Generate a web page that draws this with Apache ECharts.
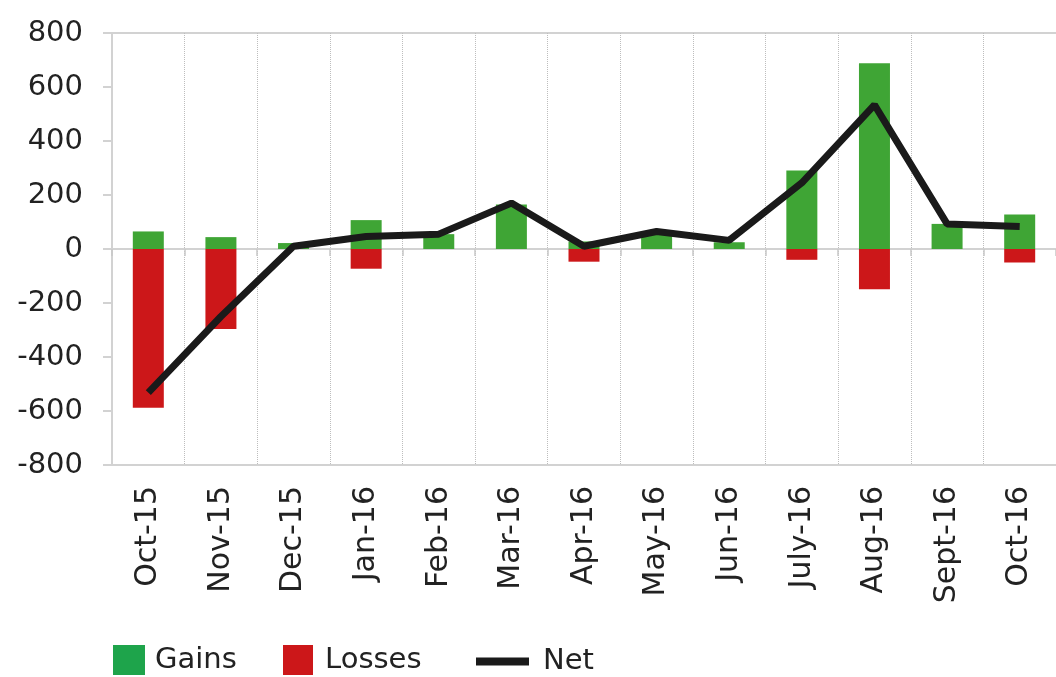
<!DOCTYPE html>
<html>
<head>
<meta charset="utf-8">
<script src="https://cdn.jsdelivr.net/npm/echarts@6/dist/echarts.min.js"></script>
<style>
  html, body { margin: 0; padding: 0; background: #ffffff; }
  #chart { width: 1056px; height: 677px; }
</style>
</head>
<body>
<div id="chart"></div>
<script>
const categories = ['Oct-15', 'Nov-15', 'Dec-15', 'Jan-16', 'Feb-16', 'Mar-16', 'Apr-16', 'May-16', 'Jun-16', 'July-16', 'Aug-16', 'Sept-16', 'Oct-16'];
const gains = [65, 44, 22, 107, 55, 165, 28, 65, 25, 291, 688, 93, 128];
const losses = [-588, -296, 0, -73, 0, 0, -47, 0, 0, -40, -149, 0, -50];
const net = [-532, -250, 10, 46, 55, 170, 10, 65, 32, 245, 534, 93, 83];
const yTicks = { min: -800, max: 800, interval: 200 };

const FONT = 'DejaVu Sans';
const TEXT = '#222222';
const GRIDC = '#d2d2d2';

const chart = echarts.init(document.getElementById('chart'), null, { renderer: 'canvas' });

const splitColors = [];
for (let v = yTicks.min; v <= yTicks.max; v += yTicks.interval) {
  splitColors.push((v === yTicks.min || v === yTicks.max) ? GRIDC : 'rgba(0,0,0,0)');
}

chart.setOption({
  animation: false,
  backgroundColor: '#ffffff',
  grid: { left: 112, top: 33, width: 949, bottom: 212, containLabel: false },
  legend: [
    {
      left: 108, top: 640, itemWidth: 32, itemHeight: 30, icon: 'rect',
      data: [{ name: 'Gains', itemStyle: { color: '#1ea44b' } }],
      textStyle: { fontFamily: FONT, fontSize: 29, color: TEXT, padding: [0, 0, 0, 5] }
    },
    {
      left: 278, top: 640, itemWidth: 30, itemHeight: 30, icon: 'rect',
      data: [{ name: 'Losses', itemStyle: { color: '#cc1719' } }],
      textStyle: { fontFamily: FONT, fontSize: 29, color: TEXT, padding: [0, 0, 0, 7] }
    },
    {
      left: 471, top: 642, itemWidth: 53, itemHeight: 8, icon: 'rect',
      data: [{ name: 'Net', itemStyle: { color: '#1a1a1a' } }],
      textStyle: { fontFamily: FONT, fontSize: 29, color: TEXT, padding: [0, 0, 0, 9] }
    }
  ],
  xAxis: [
    {
      type: 'category',
      data: categories,
      position: 'bottom',
      boundaryGap: true,
      axisLine: { show: false, onZero: false },
      axisTick: { show: false },
      axisLabel: {
        rotate: 90, margin: 21, interval: 0,
        fontFamily: FONT, fontSize: 30, color: TEXT
      },
      splitLine: { show: true, interval: 0, lineStyle: { color: '#bdbdbd', type: 'dotted', width: 1 } }
    },
    {
      type: 'category',
      data: categories,
      position: 'bottom',
      boundaryGap: true,
      axisLine: { show: true, onZero: true, lineStyle: { color: GRIDC, width: 2 } },
      axisTick: { show: true, interval: 0, length: 7, inside: false, lineStyle: { color: '#c8c8c8', width: 1.5 } },
      axisLabel: { show: false },
      splitLine: { show: false }
    }
  ],
  yAxis: {
    type: 'value',
    min: yTicks.min,
    max: yTicks.max,
    interval: yTicks.interval,
    axisLine: { show: true, lineStyle: { color: GRIDC, width: 2 } },
    axisTick: { show: true, length: 9, lineStyle: { color: GRIDC, width: 2 } },
    axisLabel: { margin: 29, fontFamily: FONT, fontSize: 29, color: TEXT },
    splitLine: { show: true, lineStyle: { color: splitColors, width: 2 } }
  },
  series: [
    {
      name: 'Gains', type: 'bar', stack: 'total', xAxisIndex: 0,
      barWidth: 31, data: gains,
      itemStyle: { color: '#3fa535' }, z: 2
    },
    {
      name: 'Losses', type: 'bar', stack: 'total', xAxisIndex: 0,
      barWidth: 31, data: losses,
      itemStyle: { color: '#cc1719' }, z: 2
    },
    {
      name: 'Net', type: 'line', xAxisIndex: 0, data: net,
      symbol: 'none', lineStyle: { color: '#1a1a1a', width: 7 },
      itemStyle: { color: '#1a1a1a' }, z: 5
    }
  ]
});
</script>
</body>
</html>
